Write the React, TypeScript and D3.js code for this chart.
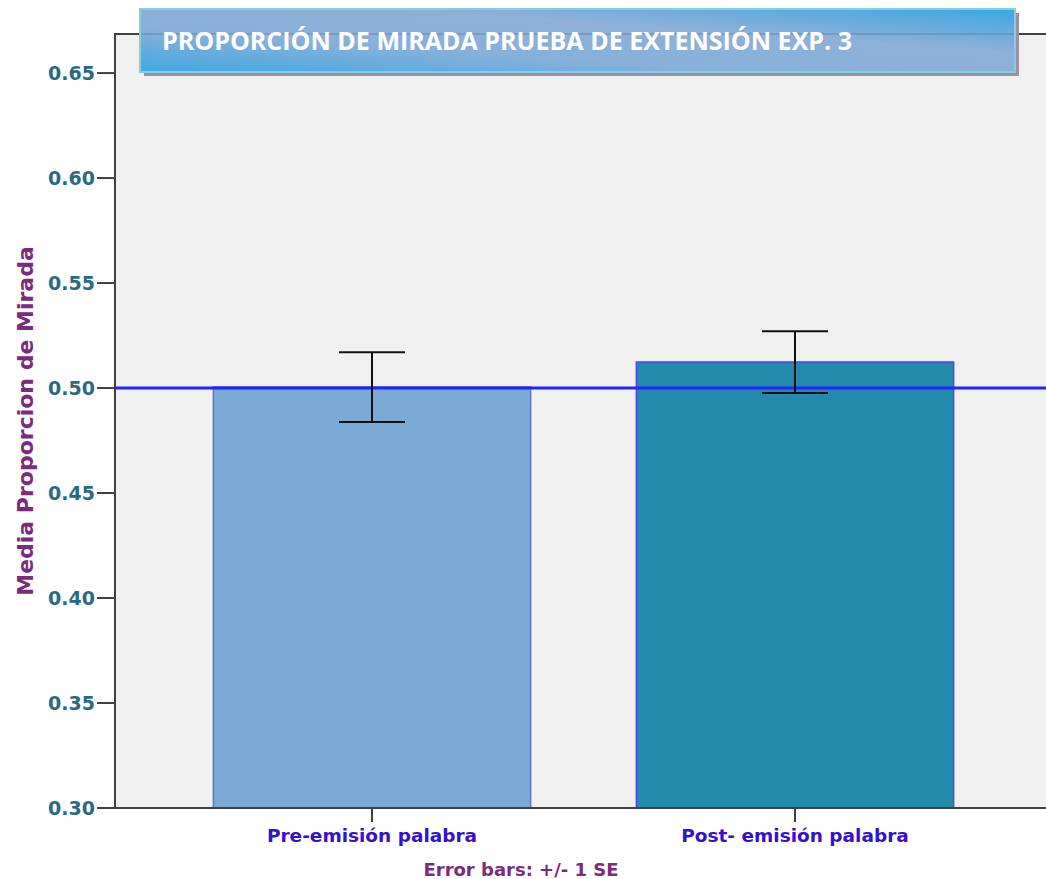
import React from "react";
import * as d3 from "d3";

const categories = ["Pre-emisión palabra", "Post- emisión palabra"];
const means = [0.5005, 0.5124];
const seLow = [0.4838, 0.4976];
const seHigh = [0.5171, 0.5271];
const yTicks = [0.3, 0.35, 0.4, 0.45, 0.5, 0.55, 0.6, 0.65];
const refValue = 0.5;
const barFills = ["#7aa9d6", "#248aab"];
const barStrokes = ["#5a78c8", "#4848f0"];

const W = 1046;
const H = 879;
const left = 115;
const top = 34;
const bottom = 808;

export default function App() {
  const y = d3.scaleLinear().domain([0.3, 0.6686]).range([bottom, top]);
  const x = d3
    .scaleBand<string>()
    .domain(categories)
    .range([160.5, 1006.5])
    .paddingInner(0.25)
    .paddingOuter(0.125);
  const bw = x.bandwidth();
  const cap = 33;

  return (
    <svg width={W} height={H} style={{ position: "absolute", left: 0, top: 0 }}>
      <defs>
        <linearGradient id="tg" x1="0" y1="1" x2="1" y2="0">
          <stop offset="0" stopColor="#40a8e4" />
          <stop offset="0.35" stopColor="#88b0da" />
          <stop offset="0.65" stopColor="#8fb0d8" />
          <stop offset="1" stopColor="#3aa8e4" />
        </linearGradient>
      </defs>
      <rect x={0} y={0} width={W} height={H} fill="#ffffff" />
      <rect x={left} y={top} width={W - left} height={bottom - top} fill="#f0f0f0" />
      <line x1={left} x2={W} y1={top} y2={top} stroke="#404040" strokeWidth={2} />

      {categories.map((c, i) => (
        <rect
          key={c}
          x={x(c)!}
          y={y(means[i])}
          width={bw}
          height={bottom - y(means[i])}
          fill={barFills[i]}
          stroke={barStrokes[i]}
          strokeWidth={1.5}
        />
      ))}

      <line x1={left} x2={W} y1={y(refValue)} y2={y(refValue)} stroke="#2424ff" strokeWidth={3} />

      {categories.map((c, i) => {
        const cx = x(c)! + bw / 2;
        return (
          <g key={"e" + c} stroke="#111" strokeWidth={2}>
            <line x1={cx} x2={cx} y1={y(seHigh[i])} y2={y(seLow[i])} />
            <line x1={cx - cap} x2={cx + cap} y1={y(seHigh[i])} y2={y(seHigh[i])} />
            <line x1={cx - cap} x2={cx + cap} y1={y(seLow[i])} y2={y(seLow[i])} />
          </g>
        );
      })}

      <line x1={left} x2={left} y1={top - 1} y2={bottom + 1} stroke="#404040" strokeWidth={2} />
      <line x1={left} x2={W} y1={bottom} y2={bottom} stroke="#404040" strokeWidth={2} />
      {yTicks.map((t) => (
        <g key={t}>
          <line x1={left - 18} x2={left} y1={y(t)} y2={y(t)} stroke="#404040" strokeWidth={2} />
          <text
            x={left - 20}
            y={y(t) + 7}
            textAnchor="end"
            fontFamily="DejaVu Sans"
            fontWeight="bold"
            fontSize={19}
            fill="#2a6a80"
          >
            {t.toFixed(2)}
          </text>
        </g>
      ))}
      {categories.map((c) => {
        const cx = x(c)! + bw / 2;
        return (
          <g key={"x" + c}>
            <line x1={cx} x2={cx} y1={bottom} y2={bottom + 14} stroke="#404040" strokeWidth={2} />
            <text
              x={cx}
              y={842}
              textAnchor="middle"
              fontFamily="DejaVu Sans"
              fontWeight="bold"
              fontSize={18.5}
              fill="#3510d0"
            >
              {c}
            </text>
          </g>
        );
      })}
      <text
        x={521}
        y={876}
        textAnchor="middle"
        fontFamily="DejaVu Sans"
        fontWeight="bold"
        fontSize={18}
        fill="#7b2b7e"
      >
        Error bars: +/- 1 SE
      </text>
      <text
        transform={`translate(33,421) rotate(-90)`}
        textAnchor="middle"
        fontFamily="DejaVu Sans"
        fontWeight="bold"
        fontSize={22}
        fill="#7b2b7e"
      >
        Media Proporcion de Mirada
      </text>

      <rect x={144} y={13} width={875} height={63} fill="#9d90a2" />
      <rect x={140} y={9} width={875} height={63} fill="url(#tg)" stroke="#80d0e2" strokeWidth={2} />
      <line x1={141} x2={1014} y1={top} y2={top} stroke="#50708a" strokeWidth={2} opacity={0.3} />
      <text
        x={162}
        y={50}
        fontFamily="Open Sans"
        fontWeight="bold"
        fontSize={25}
        fill="#ffffff"
        textLength={690}
        lengthAdjust="spacingAndGlyphs"
      >
        PROPORCIÓN DE MIRADA PRUEBA DE EXTENSIÓN EXP. 3
      </text>
    </svg>
  );
}
